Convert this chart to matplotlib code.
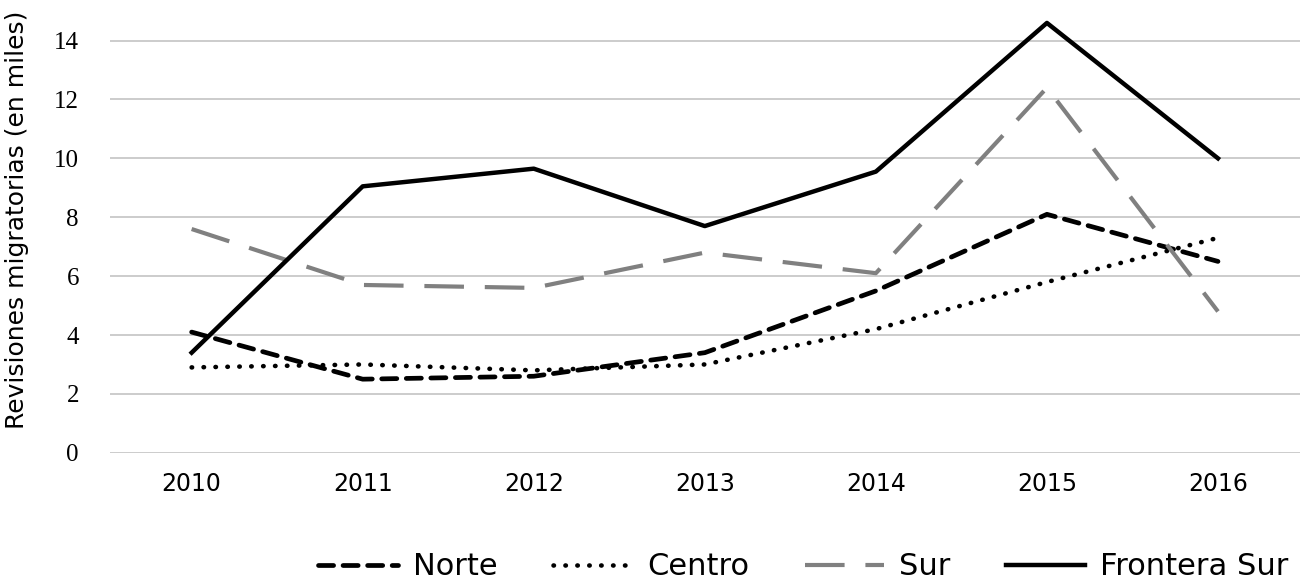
import matplotlib.pyplot as plt

years = ['2010', '2011', '2012', '2013', '2014', '2015', '2016']
norte = [4.1, 2.5, 2.6, 3.4, 5.5, 8.1, 6.5]
centro = [2.9, 3.0, 2.8, 3.0, 4.2, 5.8, 7.3]
sur = [7.6, 5.7, 5.6, 6.8, 6.1, 12.4, 4.8]
frontera_sur = [3.4, 9.05, 9.65, 7.7, 9.55, 14.6, 10.0]
y_ticks = [0, 2, 4, 6, 8, 10, 12, 14]

fig = plt.figure(figsize=(13.04, 5.85), dpi=100)
ax = fig.add_axes([0.084, 0.226, 0.913, 0.765])

x = range(len(years))
ax.plot(x, norte, color='black', lw=3.4, ls=(0, (3.2, 2.0)),
        dash_capstyle='round', label='Norte')
ax.plot(x, centro, color='black', lw=3.3, ls=(0, (0.1, 2.5)),
        dash_capstyle='round', label='Centro')
ax.plot(x, sur, color='#808080', lw=3.0, ls=(0, (9.5, 5)), label='Sur')
ax.plot(x, frontera_sur, color='black', lw=3.2, label='Frontera Sur')

ax.set_xlim(-0.48, 6.48)
ax.set_ylim(0, 15.2)
ax.set_xticks(list(x))
ax.set_xticklabels(years, fontsize=17, family='DejaVu Sans')
ax.set_yticks(y_ticks)
ax.set_yticklabels([str(t) for t in y_ticks], fontsize=18, family='Liberation Serif')
ax.tick_params(length=0, pad=14)
ax.tick_params(axis='y', pad=22)
ax.grid(axis='y', color='#c8c8c8', lw=1.3)
ax.set_axisbelow(True)
for s in ax.spines.values():
    s.set_visible(False)

ax.set_ylabel('Revisiones migratorias (en miles)', fontsize=18,
              family='DejaVu Sans', labelpad=6)
ax.yaxis.set_label_coords(-0.068, 0.52)

leg = ax.legend(loc='center', bbox_to_anchor=(0.583, -0.255), ncol=4,
                frameon=False, handlelength=2.6, columnspacing=1.8,
                handletextpad=0.5, prop={'family': 'DejaVu Sans', 'size': 22})

fig.savefig('out.png', dpi=100)
